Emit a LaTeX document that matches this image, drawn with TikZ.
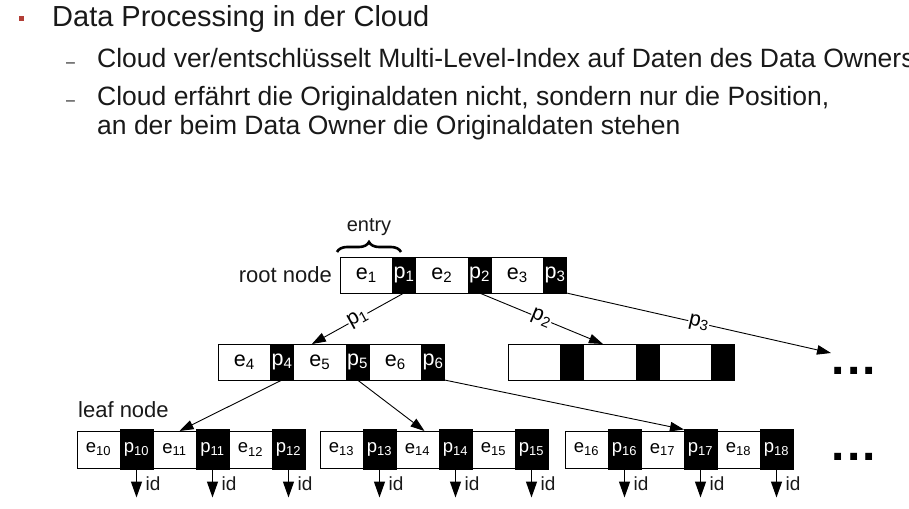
\documentclass[tikz,border=0pt]{standalone}
\usepackage{fontspec}
\setmainfont{Liberation Sans}
\definecolor{slidered}{RGB}{178,62,54}
\definecolor{inkgray}{RGB}{25,25,25}
\usetikzlibrary{arrows.meta,positioning,calc,decorations.pathreplacing}

\begin{document}
\begin{tikzpicture}[x=1pt,y=-1pt,
  ecell/.style={draw,fill=white,line width=0.9pt,minimum width=52.5pt,minimum height=36pt,
    inner sep=0pt,outer sep=0pt,font=\fontsize{21.5}{21.5}\selectfont},
  pcell/.style={ecell,fill=black,text=white,minimum width=23pt},
  lecell/.style={ecell,minimum width=43pt,minimum height=37pt,font=\fontsize{18.5}{18.5}\selectfont},
  lpcell/.style={lecell,fill=black,text=white,minimum width=33pt,minimum height=40pt},
  ptr/.style={-{Triangle[length=14pt,width=9.5pt]},line width=0.9pt},
  idarr/.style={-{Triangle[length=16pt,width=11pt]},line width=1.3pt},
  plabel/.style={midway,sloped,fill=white,inner sep=0.5pt,font=\fontsize{21}{21}\selectfont},
  lbl/.style={inner sep=0pt,text=inkgray,font=\fontsize{22}{22}\selectfont},
  slidetext/.style={anchor=base west,inner sep=0pt,text=inkgray,font=\fontsize{26.5}{26.5}\selectfont},
  dotsbox/.style={inner sep=0pt,font=\bfseries\fontsize{48}{48}\selectfont}
]
  \useasboundingbox (0,0) rectangle (909,508);
  \clip (0,0) rectangle (909,508);
  % Slide text
  \node[fill=slidered,minimum size=5pt,inner sep=0pt] (bullet) at (21.5,18.5) {};
  \node[slidetext,font=\fontsize{29}{29}\selectfont] (title) at (52,27) {Data Processing in der Cloud};
  \node[slidetext,font=\fontsize{16}{16}\selectfont] (dashA) at (66,68) {--};
  \node[slidetext] (itemA) at (97,68) {Cloud ver/entschlüsselt Multi-Level-Index auf Daten des Data Owners};
  \node[slidetext,font=\fontsize{16}{16}\selectfont] (dashB) at (66,106) {--};
  \node[slidetext] (itemB) at (97,106) {Cloud erfährt die Originaldaten nicht, sondern nur die Position,};
  \node[slidetext] (itemC) at (97,134) {an der beim Data Owner die Originaldaten stehen};
  % Root node
  \node[ecell,anchor=north west] (e1) at (340,257) {e\textsubscript{1}};
  \node[pcell,right=0pt of e1] (p1) {p\textsubscript{1}};
  \node[ecell,right=0pt of p1] (e2) {e\textsubscript{2}};
  \node[pcell,right=0pt of e2] (p2) {p\textsubscript{2}};
  \node[ecell,right=0pt of p2] (e3) {e\textsubscript{3}};
  \node[pcell,right=0pt of e3] (p3) {p\textsubscript{3}};
  \node[lbl,left=8pt of e1] (rootlbl) {root node};
  \draw[decorate,decoration={brace,amplitude=10pt},line width=2.6pt]
    ($(e1.north west)+(-3,-5)$) -- ($(p1.north)+(-3,-5)$)
    node[midway,above=15pt,lbl,font=\fontsize{20}{20}\selectfont] (entry) {entry};
  % Middle level, first node
  \node[ecell,anchor=north west] (e4) at (218,344) {e\textsubscript{4}};
  \node[pcell,right=0pt of e4] (p4) {p\textsubscript{4}};
  \node[ecell,right=0pt of p4] (e5) {e\textsubscript{5}};
  \node[pcell,right=0pt of e5] (p5) {p\textsubscript{5}};
  \node[ecell,right=0pt of p5] (e6) {e\textsubscript{6}};
  \node[pcell,right=0pt of e6] (p6) {p\textsubscript{6}};
  % Middle level, second node (empty)
  \node[ecell,anchor=north west] (u1) at (508,344) {};
  \node[pcell,right=0pt of u1] (u2) {};
  \node[ecell,right=0pt of u2] (u3) {};
  \node[pcell,right=0pt of u3] (u4) {};
  \node[ecell,right=0pt of u4] (u5) {};
  \node[pcell,right=0pt of u5] (u6) {};
  \node[dotsbox,anchor=north west] (moreA) at (831,367) {.\kern2.5pt.\kern2.5pt.};
  % Leaf level
  \node[lbl,anchor=base west] (leaflbl) at (78,417) {leaf node};
  \node[lecell,anchor=north west] (e10) at (77,431) {e\textsubscript{10}};
  \node[lpcell,right=0pt of e10] (p10) {p\textsubscript{10}};
  \node[lecell,right=0pt of p10] (e11) {e\textsubscript{11}};
  \node[lpcell,right=0pt of e11] (p11) {p\textsubscript{11}};
  \node[lecell,right=0pt of p11] (e12) {e\textsubscript{12}};
  \node[lpcell,right=0pt of e12] (p12) {p\textsubscript{12}};
  \node[lecell,anchor=north west] (e13) at (320,431) {e\textsubscript{13}};
  \node[lpcell,right=0pt of e13] (p13) {p\textsubscript{13}};
  \node[lecell,right=0pt of p13] (e14) {e\textsubscript{14}};
  \node[lpcell,right=0pt of e14] (p14) {p\textsubscript{14}};
  \node[lecell,right=0pt of p14] (e15) {e\textsubscript{15}};
  \node[lpcell,right=0pt of e15] (p15) {p\textsubscript{15}};
  \node[lecell,anchor=north west] (e16) at (565,431) {e\textsubscript{16}};
  \node[lpcell,right=0pt of e16] (p16) {p\textsubscript{16}};
  \node[lecell,right=0pt of p16] (e17) {e\textsubscript{17}};
  \node[lpcell,right=0pt of e17] (p17) {p\textsubscript{17}};
  \node[lecell,right=0pt of p17] (e18) {e\textsubscript{18}};
  \node[lpcell,right=0pt of e18] (p18) {p\textsubscript{18}};
  \node[dotsbox,anchor=north west] (moreB) at (831,453) {.\kern2.5pt.\kern2.5pt.};
  % Pointers between levels
  \draw[ptr] (p1.south) -- ($(e5.north west)!0.35!(e5.north east)$) node[plabel] {p\textsubscript{1}};
  \draw[ptr] (p2.south) -- ($(u3.north west)!0.37!(u3.north east)$) node[plabel] {p\textsubscript{2}};
  \draw[ptr] (p3.south east) -- ($(moreA.north west)+(0,-14)$) node[plabel] {p\textsubscript{3}};
  \draw[ptr] (p4.south) -- ($(e11.north)+(5,0)$);
  \draw[ptr] (p5.south) -- ($(e14.north)+(7,0)$);
  \draw[ptr] (p6.south east) -- (p17.north west);
  % Pointers to the original data
  \foreach \i in {10,...,18} {
    \coordinate (t\i) at ($(p\i.south)+(0,28)$);
    \draw[idarr] (p\i.south) -- (t\i);
    \node[lbl,font=\fontsize{19}{19}\selectfont,anchor=base west] (id\i) at ($(t\i)+(9,-7)$) {id};
  }
\end{tikzpicture}
\end{document}
